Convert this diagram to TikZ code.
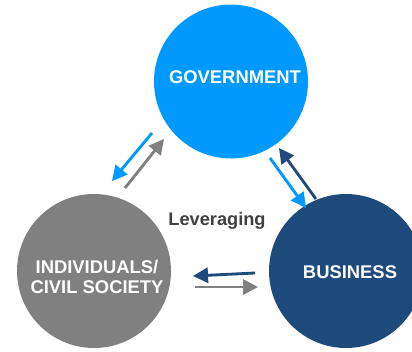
\documentclass[tikz,border=0pt]{standalone}
\usepackage{fontspec}
\setmainfont{Liberation Sans}
\usetikzlibrary{arrows.meta}
\definecolor{govblue}{RGB}{0,153,255}
\definecolor{busblue}{RGB}{31,74,124}
\definecolor{civgray}{RGB}{128,128,128}
\definecolor{txtgray}{RGB}{64,64,64}
\tikzset{
  bigcircle/.style={circle, inner sep=0pt, minimum size=154pt},
  label text/.style={text=white, font=\fontsize{18.4}{20.7}\selectfont\bfseries, align=center, inner sep=0pt},
  flow/.style={line width=2.8pt, -{Triangle[length=15pt,width=15pt]}},
  flowshadow/.style={line width=2.8pt, -{Triangle[length=15pt,width=15pt]}, draw=black!25, opacity=0.5, shift={(1.5,1.5)}},
}
\begin{document}
\begin{tikzpicture}[x=1pt,y=-1pt]
\useasboundingbox (0,0) rectangle (412,351);
\clip (0,0) rectangle (412,351);
% circles
\node[bigcircle, fill=govblue] (gov) at (231,81.5) {};
\node[bigcircle, fill=civgray] (ind) at (94,271) {};
\node[bigcircle, fill=busblue] (bus) at (346,271) {};
% texts
\node[label text] (govt) at (235,77) {GOVERNMENT};
\node[label text] (indt) at (97,277) {INDIVIDUALS/\\CIVIL SOCIETY};
\node[label text] (bust) at (350,272) {BUSINESS};
\node[text=txtgray, font=\fontsize{18.2}{20}\selectfont\bfseries, inner sep=0pt] (lev) at (217,221) {Leveraging};
% arrow end points
\coordinate (gi1) at (152,133); \coordinate (gi2) at (112,181);
\coordinate (ig1) at (125,188); \coordinate (ig2) at (164,139);
\coordinate (gb1) at (270,158); \coordinate (gb2) at (306,208);
\coordinate (bg1) at (316,199); \coordinate (bg2) at (279,148);
\coordinate (bi1) at (255,273); \coordinate (bi2) at (193,276);
\coordinate (ib1) at (195,287); \coordinate (ib2) at (258,287);
% shadows
\foreach \a/\b in {gi1/gi2, ig1/ig2, gb1/gb2, bg1/bg2, bi1/bi2, ib1/ib2}
  \draw[flowshadow] (\a) -- (\b);
% arrows
\draw[flow, draw=govblue, fill=govblue] (gi1) -- (gi2);
\draw[flow, draw=civgray, fill=civgray] (ig1) -- (ig2);
\draw[flow, draw=govblue, fill=govblue] (gb1) -- (gb2);
\draw[flow, draw=busblue, fill=busblue] (bg1) -- (bg2);
\draw[flow, draw=busblue, fill=busblue] (bi1) -- (bi2);
\draw[flow, draw=civgray, fill=civgray] (ib1) -- (ib2);
\end{tikzpicture}
\end{document}
